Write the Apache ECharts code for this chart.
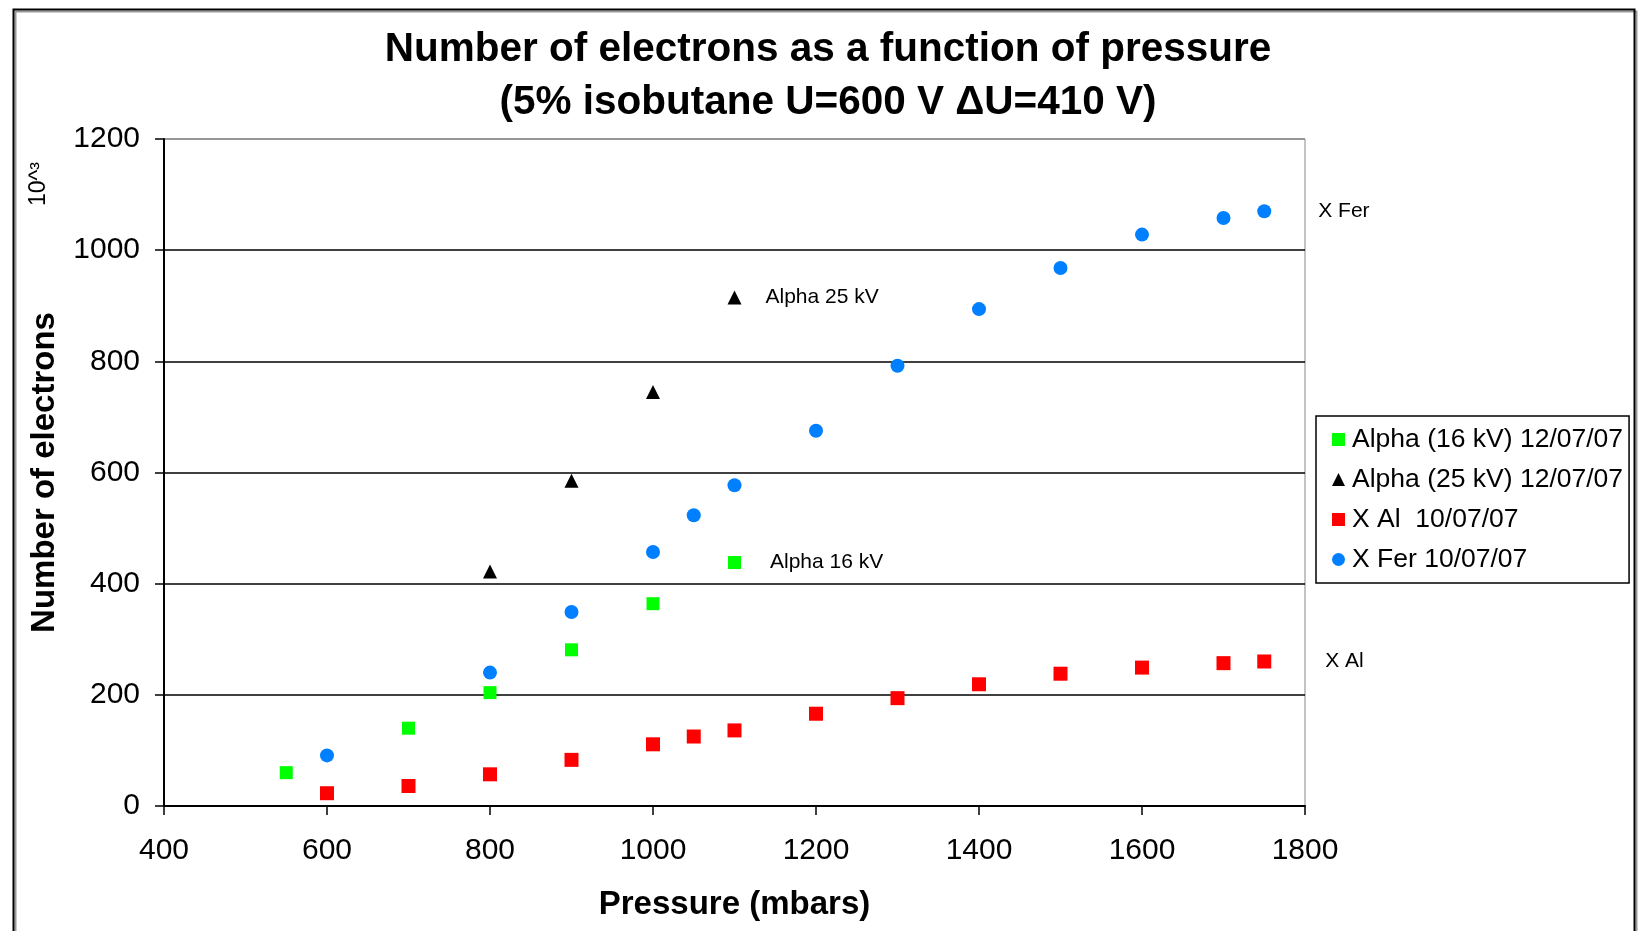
<!DOCTYPE html>
<html>
<head>
<meta charset="utf-8">
<title>Number of electrons as a function of pressure</title>
<script src="https://cdn.jsdelivr.net/npm/echarts@6/dist/echarts.min.js"></script>
<style>
  html, body { margin: 0; padding: 0; background: #fff; }
  #chart { width: 1639px; height: 931px; }
</style>
</head>
<body>
<div id="chart"></div>
<script>
// Pressure (mbar) and number of electrons (x10^3) for each run
const alpha16Pressure = [550, 700, 800, 900, 1000, 1100];
const alpha16Electrons = [60, 140, 204, 281, 364, 438];

const alpha25Pressure = [800, 900, 1000, 1100];
const alpha25Electrons = [422, 585, 745, 915];

const xAlPressure = [600, 700, 800, 900, 1000, 1050, 1100, 1200, 1300, 1400, 1500, 1600, 1700, 1750];
const xAlElectrons = [23, 36, 57, 83, 111, 125, 136, 166, 194, 219, 238, 249, 257, 260];

const xFerPressure = [600, 800, 900, 1000, 1050, 1100, 1200, 1300, 1400, 1500, 1600, 1700, 1750];
const xFerElectrons = [91, 240, 349, 457, 523, 577, 675, 792, 894, 968, 1028, 1058, 1070];

const seriesNames = ['Alpha (16 kV) 12/07/07', 'Alpha (25 kV) 12/07/07', 'X Al  10/07/07', 'X Fer 10/07/07'];
const endNotes = ['Alpha 16 kV', 'Alpha 25 kV', 'X Al', 'X Fer'];

const FONT = '"Liberation Sans", Arial, sans-serif';

// Pair x/y arrays into points; the last point of a run carries its side note
function points(xs, ys, note, dist) {
  return xs.map((x, i) => {
    const p = { value: [x, ys[i]] };
    if (i === xs.length - 1) {
      p.label = {
        show: true, position: 'right', distance: dist,
        formatter: note, color: '#000', fontFamily: FONT, fontSize: 21
      };
    }
    return p;
  });
}

const chart = echarts.init(document.getElementById('chart'), null, { renderer: 'canvas' });

chart.setOption({
  backgroundColor: '#fff',
  animation: false,
  title: {
    text: 'Number of electrons as a function of pressure\n(5% isobutane U=600 V \u0394U=410 V)',
    left: 823, top: 18, textAlign: 'center',
    textStyle: { fontFamily: FONT, fontWeight: 'bold', fontSize: 40.5, lineHeight: 53, color: '#000' }
  },
  grid: {
    left: 164, right: 334, top: 139, bottom: 125,
    show: true, borderColor: '#888', borderWidth: 1, backgroundColor: '#fff'
  },
  legend: {
    orient: 'vertical', left: 1316, top: 416,
    padding: [10, 6, 10, 16], itemGap: 13,
    itemWidth: 13, itemHeight: 13,
    backgroundColor: '#fff', borderColor: '#000', borderWidth: 1.5,
    textStyle: { fontFamily: FONT, fontSize: 26.5, color: '#000', padding: [0, 0, 0, 2] },
    data: [
      { name: seriesNames[0], icon: 'rect' },
      { name: seriesNames[1], icon: 'triangle' },
      { name: seriesNames[2], icon: 'rect' },
      { name: seriesNames[3], icon: 'circle' }
    ]
  },
  xAxis: {
    type: 'value', min: 400, max: 1800, interval: 200,
    name: 'Pressure (mbars)', nameLocation: 'middle', nameGap: 82,
    nameTextStyle: { fontFamily: FONT, fontWeight: 'bold', fontSize: 33, color: '#000' },
    axisLine: { show: true, onZero: false, lineStyle: { color: '#000', width: 2 } },
    axisTick: { show: true, length: 9, lineStyle: { color: '#000', width: 1.5 } },
    axisLabel: { fontFamily: FONT, fontSize: 30, color: '#000', margin: 30, formatter: v => String(v) },
    splitLine: { show: false }
  },
  yAxis: {
    type: 'value', min: 0, max: 1200, interval: 200,
    name: 'Number of electrons', nameLocation: 'middle', nameGap: 103, nameRotate: 90,
    nameTextStyle: { fontFamily: FONT, fontWeight: 'bold', fontSize: 33, color: '#000' },
    axisLine: { show: true, lineStyle: { color: '#000', width: 2 } },
    axisTick: { show: true, length: 9, lineStyle: { color: '#000', width: 1.5 } },
    axisLabel: { fontFamily: FONT, fontSize: 30, color: '#000', margin: 24, formatter: v => String(v) },
    splitLine: {
      show: true,
      lineStyle: { color: ['#000', '#000', '#000', '#000', '#000', '#000', '#888'], width: 1.5 }
    }
  },
  series: [
    {
      name: seriesNames[0], type: 'scatter', symbol: 'rect', symbolSize: 13,
      itemStyle: { color: '#00ff00', opacity: 1 },
      data: points(alpha16Pressure, alpha16Electrons, endNotes[0], 29)
    },
    {
      name: seriesNames[1], type: 'scatter', symbol: 'triangle', symbolSize: 14,
      itemStyle: { color: '#000', opacity: 1 },
      data: points(alpha25Pressure, alpha25Electrons, endNotes[1], 24)
    },
    {
      name: seriesNames[2], type: 'scatter', symbol: 'rect', symbolSize: 14,
      itemStyle: { color: '#ff0000', opacity: 1 },
      data: points(xAlPressure, xAlElectrons, endNotes[2], 54)
    },
    {
      name: seriesNames[3], type: 'scatter', symbol: 'circle', symbolSize: 14,
      itemStyle: { color: '#0080ff', opacity: 1 },
      data: points(xFerPressure, xFerElectrons, endNotes[3], 47)
    }
  ],
  graphic: [
    // outer chart frame with a soft shadow edge
    {
      type: 'rect', left: 13, top: 9, z: -1,
      shape: { width: 1621, height: 940 },
      style: { fill: 'none', stroke: '#999', lineWidth: 2 }
    },
    {
      type: 'rect', left: 11, top: 7, z: -1,
      shape: { width: 1621, height: 940 },
      style: { fill: 'none', stroke: '#000', lineWidth: 2 }
    },
    // unit marker next to the vertical axis title
    {
      type: 'text', x: 39, y: 184, rotation: Math.PI / 2,
      style: {
        text: '10^\u00b3', fontFamily: FONT, fontSize: 23, fill: '#000',
        align: 'center', verticalAlign: 'middle'
      }
    }
  ]
});
</script>
</body>
</html>
